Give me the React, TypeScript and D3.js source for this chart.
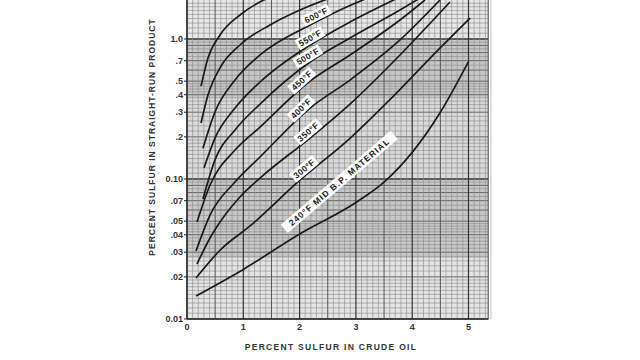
import React from 'react';
import * as d3 from 'd3';

// ---- data (percent sulfur in crude oil, percent sulfur in straight-run product) ----
const xTickValues = [0, 1, 2, 3, 4, 5];
const yTickValues = [0.01, 0.02, 0.03, 0.04, 0.05, 0.07, 0.1, 0.2, 0.3, 0.4, 0.5, 0.7, 1.0];
const yTickLabels = ['0.01', '.02', '.03', '.04', '.05', '.07', '0.10', '.2', '.3', '.4', '.5', '.7', '1.0'];

const s240: [number, number][] = [[0.16, 0.0146], [1.0, 0.0226], [2.0, 0.0405], [3.0, 0.068], [3.5, 0.095], [4.0, 0.155], [4.5, 0.3], [5.0, 0.69]];
const s300: [number, number][] = [[0.16, 0.0196], [0.59, 0.0311], [1.12, 0.0462], [2.01, 0.0984], [2.9, 0.196], [3.6, 0.367], [4.32, 0.731], [5.03, 1.41]];
const s350: [number, number][] = [[0.178, 0.0247], [0.409, 0.0379], [0.675, 0.0553], [0.941, 0.0744], [1.297, 0.1016], [2.185, 0.196], [2.895, 0.343], [3.783, 0.769], [4.671, 1.838]];
const s400: [number, number][] = [[0.16, 0.0306], [0.409, 0.0553], [0.853, 0.0952], [1.297, 0.1436], [2.185, 0.321], [2.895, 0.509], [3.783, 0.984], [4.494, 1.899]];
const s450: [number, number][] = [[0.178, 0.0493], [0.409, 0.0906], [0.853, 0.161], [1.297, 0.235], [2.185, 0.501], [2.895, 0.769], [3.783, 1.367], [4.227, 1.899]];
const s500: [number, number][] = [[0.284, 0.072], [0.497, 0.137], [0.853, 0.224], [1.297, 0.343], [2.185, 0.685], [2.895, 1.017], [3.783, 1.611], [4.139, 1.963]];
const s550: [number, number][] = [[0.302, 0.12], [0.497, 0.196], [0.853, 0.321], [1.297, 0.493], [2.185, 0.906], [2.895, 1.323], [3.783, 1.995]];
const s600: [number, number][] = [[0.284, 0.166], [0.497, 0.301], [0.853, 0.509], [1.297, 0.769], [2.185, 1.259], [2.718, 1.611], [3.25, 1.995]];
const s650: [number, number][] = [[0.249, 0.251], [0.373, 0.398], [0.586, 0.621], [0.941, 0.906], [1.474, 1.259], [2.007, 1.611], [2.54, 1.963]];
const s700: [number, number][] = [[0.249, 0.461], [0.373, 0.732], [0.586, 1.068], [0.941, 1.484], [1.261, 1.808], [1.563, 2.062]];

const seriesList = [s240, s300, s350, s400, s450, s500, s550, s600, s650, s700];
const seriesLabels = ['240°F MID B.P. MATERIAL', '300°F', '350°F', '400°F', '450°F', '500°F', '550°F', '600°F', '', ''];
const labelAtX = [2.93, 2.15, 2.22, 2.1, 2.11, 2.2, 2.24, 2.34, 0, 0];

export default function App() {
  const W = 640, H = 360;
  const x = d3.scaleLinear().domain([0, 5]).range([187, 468.5]);
  const y = d3.scaleLog().domain([0.01, 1]).range([319, 39]);
  const xMax = 5.35;
  const left = x(0), right = x(xMax), bottom = y(0.01), top = 0;
  const yTop = y.invert(top);

  // grid
  const vLines = d3.range(0, Math.round(xMax * 10) + 1).map(i => i / 10);
  const steps = [...d3.range(1, 2, 0.1), ...d3.range(2, 5, 0.2), ...d3.range(5, 10, 0.5)];
  const hLines: { v: number; d: number }[] = [];
  [-2, -1, 0].forEach(k => steps.forEach(d => {
    const v = d * Math.pow(10, k);
    if (v <= yTop) hLines.push({ v, d });
  }));

  const bands = [
    { a: 1.0, b: yTop, c: '#e6e6e6' },
    { a: 0.38, b: 1.0, c: '#c6c6c6' },
    { a: 0.1, b: 0.38, c: '#dadada' },
    { a: 0.027, b: 0.1, c: '#c8c8c8' },
    { a: 0.01, b: 0.027, c: '#e4e4e4' },
  ];

  const line = d3.line<[number, number]>()
    .x(d => x(d[0]))
    .y(d => y(d[1]))
    .curve(d3.curveMonotoneX);

  const labelPos = (pts: [number, number][], lx: number, off: number) => {
    const px = pts.map(p => [x(p[0]), y(p[1])]);
    const tx = x(lx);
    let i = 0;
    while (i < px.length - 2 && px[i + 1][0] < tx) i++;
    const [x0, y0] = px[i], [x1, y1] = px[i + 1];
    const t = (tx - x0) / (x1 - x0);
    const ty = y0 + t * (y1 - y0);
    const ang = Math.atan2(y1 - y0, x1 - x0);
    const nx = Math.sin(ang) * off, ny = -Math.cos(ang) * off;
    return { cx: tx + nx, cy: ty + ny, deg: (ang * 180) / Math.PI };
  };

  const font = "'Liberation Sans', Arial, sans-serif";

  return (
    <div style={{ position: 'absolute', left: 0, top: 0, width: W, height: H, background: '#fff' }}>
      <svg width={W} height={H} style={{ display: 'block' }}>
        <rect x={0} y={0} width={W} height={H} fill="#fff" />
        {bands.map((b, i) => (
          <rect key={i} x={left} y={y(b.b)} width={right - left} height={y(b.a) - y(b.b)} fill={b.c} />
        ))}
        {hLines.map((h, i) => {
          const major = Math.abs(h.d - 1) < 1e-6;
          const mid = Math.abs(h.d - Math.round(h.d)) < 1e-6;
          return (
            <line key={'h' + i} x1={left} x2={right} y1={y(h.v)} y2={y(h.v)}
              stroke={major ? '#333' : mid ? '#666' : '#8a8a8a'}
              strokeWidth={major ? 1.6 : mid ? 1 : 0.6} />
          );
        })}
        {vLines.map((v, i) => {
          const major = i % 10 === 0;
          const mid = i % 5 === 0;
          return (
            <line key={'v' + i} x1={x(v)} x2={x(v)} y1={top} y2={bottom}
              stroke={major ? '#333' : mid ? '#555' : '#8a8a8a'}
              strokeWidth={major ? 1.2 : mid ? 1 : 0.6} />
          );
        })}
        <line x1={left} x2={right} y1={bottom} y2={bottom} stroke="#222" strokeWidth={1.2} />
        <line x1={left} x2={left} y1={top} y2={bottom} stroke="#222" strokeWidth={1.2} />
        <line x1={right} x2={right} y1={top} y2={bottom} stroke="#444" strokeWidth={1} />

        {seriesList.map((s, i) => (
          <path key={'c' + i} d={line(s) || ''} fill="none" stroke="#1a1a1a" strokeWidth={1.7} />
        ))}

        {seriesList.map((s, i) => {
          if (!seriesLabels[i]) return null;
          const long = i === 0;
          const p = labelPos(s, labelAtX[i], long ? 26 : 6);
          const deg = long ? -40.5 : p.deg;
          const fs = 8.5;
          const ls = long ? 1.1 : 0.4;
          const w = seriesLabels[i].length * (fs * 0.6 + ls) + 2;
          return (
            <g key={'l' + i} transform={`translate(${p.cx},${p.cy}) rotate(${deg})`}>
              <rect x={-w / 2} y={-5.5} width={w} height={11} fill="#fff" />
              <text textAnchor="middle" dy="0.35em" fontSize={fs} fontFamily={font} fontWeight={700}
                letterSpacing={ls} fill="#222">{seriesLabels[i]}</text>
            </g>
          );
        })}

        {yTickValues.map((v, i) => (
          <g key={'yt' + i}>
            <line x1={left - 3} x2={left} y1={y(v)} y2={y(v)} stroke="#222" strokeWidth={1} />
            <text x={left - 4} y={y(v)} dy="0.35em" textAnchor="end" fontSize={9} fontFamily={font}
              fontWeight={700} fill="#333">{yTickLabels[i]}</text>
          </g>
        ))}
        {xTickValues.map((v, i) => (
          <text key={'xt' + i} x={x(v)} y={bottom + 11} textAnchor="middle" fontSize={9} fontFamily={font}
            fontWeight={700} fill="#333">{v}</text>
        ))}
        <text x={331} y={350} textAnchor="middle" fontSize={8.5} fontFamily={font}
          fontWeight={700} letterSpacing={1.3} fill="#333">PERCENT SULFUR IN CRUDE OIL</text>
        <text transform={`translate(155,${137}) rotate(-90)`} textAnchor="middle" fontSize={8.5} fontFamily={font}
          fontWeight={700} letterSpacing={1.0} fill="#333">PERCENT SULFUR IN STRAIGHT-RUN PRODUCT</text>
      </svg>
    </div>
  );
}
